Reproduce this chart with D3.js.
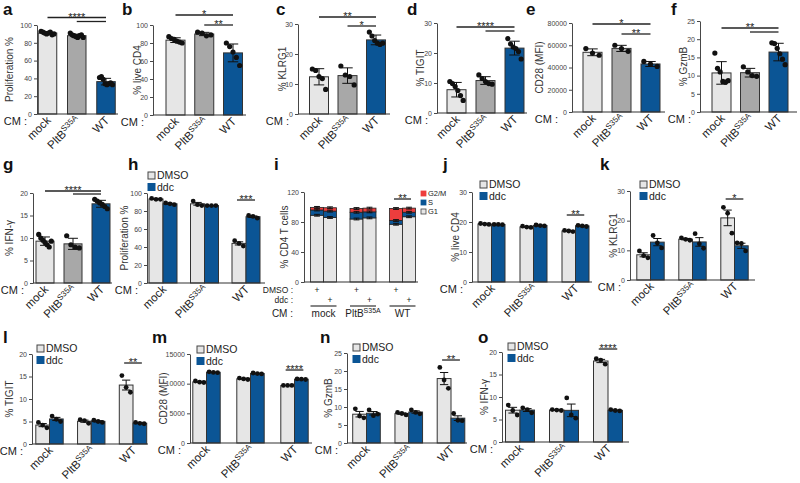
<!DOCTYPE html>
<html><head><meta charset="utf-8">
<script src="https://cdn.jsdelivr.net/npm/d3@7"></script>
<style>body{margin:0;background:#fff}svg{font-family:Arial,"Liberation Sans",sans-serif}</style>
</head><body><svg id="c" width="800" height="483"></svg>
<script>
// ---------------- DATA ----------------
const cm = ["mock", "PltB", "WT"];
const treat = ["DMSO", "ddc"];
// single-series panels: points per CM group
const aPts = [[93,92,91,90,91,92,89,90],[91,89,88,87,86,88,89,86],[41,42,39,34,33,34,35,33]];
const bPts = [[87,85,84,82,81,80],[92,91,88,89],[80,76,70,64,55]];
const cPts = [[15,14.5,12.5,11.8,8.2],[16,13,12.5,9.7],[27.3,26,24.5,23.6,23.2,23.6]];
const dPts = [[10.5,9.8,8.8,7.5,5.8,4.2],[12.7,11.5,10.5,9.8,9.6],[24.8,23,22,21.5,20.5,18]];
const ePts = [[57000,53000,51000],[60000,57000,54500],[45500,43000,41000]];
const fPts = [[16.2,12,11,8.4,8.2,8.6],[12.4,11,10,9.8],[19,18.8,17.5,16,14.5,13]];
const gPts = [[10.8,10,9.5,9,8.5,8,9.3],[10.5,8.5,8,7.8],[18.6,18.2,17.8,17.5,17,16.5]];
const singleSig = [["****",""],["*","**"],["**","*"],["****",""],["*","**"],["**",""],["****",""]];
const singleYLabels = ["Proliferation %","% live CD4","% KLRG1","% TIGIT","CD28 (MFI)","% GzmB","% IFN-\u03b3"];
// grouped panels (DMSO / ddc), 3 points per bar
const hDMSO = [[94,93,93],[91,87,86],[47,44,41]];
const hDdc  = [[89,88,87],[86,86,86],[75,74,72]];
const jDMSO = [[19.5,19.3,19.2],[18.6,18.3,18.2],[17.2,17.0,16.8]];
const jDdc  = [[19.2,19.2,19.1],[19.0,18.8,18.7],[18.9,18.7,18.5]];
const kDMSO = [[9.8,8.2,7.5],[14.2,13.7,13.4],[24.5,22.5,15.8]];
const kDdc  = [[15,12.5,10.8],[15.6,12.2,10.7],[12.5,12.3,9.8]];
const lDMSO = [[4.8,4.2,3.6],[5.4,5.2,4.6],[15.2,12.6,11.5]];
const lDdc  = [[6.2,5.5,5.0],[5.3,5.0,4.8],[4.8,4.6,4.5]];
const mDMSO = [[10450,10250,10200],[10950,10800,10700],[9700,9700,9700]];
const mDdc  = [[12000,11900,11850],[11800,11700,11650],[10800,10750,10700]];
const nDMSO = [[9.5,7.5,7.0],[8.5,8.2,7.8],[21,17.5,15.2]];
const nDdc  = [[9.2,7.6,8.0],[9.2,8.5,8.1],[8.2,6.3,6.2]];
const oDMSO = [[8.2,7.0,6.0],[7.2,7.1,7.0],[18.5,18.2,17.3]];
const oDdc  = [[7.6,7.2,6.5],[9.8,6.0,5.3],[7.2,7.0,6.9]];
const groupSig = ["***","**","*","**","****","**","****"];
const groupYLabels = ["Proliferation %","% live CD4","% KLRG1","% TIGIT","CD28 (MFI)","% GzmB","% IFN-\u03b3"];
// panel i: cell-cycle stacks (%), per CM group
const phases = ["G1","S","G2/M"];
const iG1DMSO = [89,84,77], iSDMSO = [7,9,5], iG2DMSO = [3.5,5,16];
const iG1Ddc  = [86,85.5,87], iSDdc = [8.5,8,6], iG2Ddc = [4.5,5,5.5];
const iErr = 1.2;
const iSig = "**";

// ---------------- LAYOUT ----------------
const BLUE = "#0b5595", LIGHT = "#e6e6e6", MID = "#a8a8a8", RED = "#ee3d3d";
const singleFill = [LIGHT, MID, BLUE];
const L1 = {
  a:{ax:37,yt:25,yb:114,max:100,ticks:[0,20,40,60,80,100],c0:47.5,c1:106,bw:18.5,xe:118,ylx:9,lx:3,ly:15,cmx:27,s1:17.5,s2:21.5},
  b:{ax:153,yt:25,yb:115,max:100,ticks:[0,20,40,60,80,100],c0:175.5,c1:233,bw:19,xe:246,ylx:137,lx:122,ly:15,cmx:144,s1:15,s2:25},
  c:{ax:298,yt:24,yb:114,max:30,ticks:[0,10,20,30],c0:319,c1:376,bw:19,xe:390,ylx:282,lx:276,ly:15,cmx:289,s1:17,s2:26},
  d:{ax:437,yt:23,yb:113,max:30,ticks:[0,10,20,30],c0:456.5,c1:514.5,bw:19,xe:527,ylx:420,lx:407,ly:15,cmx:428,s1:27,s2:31},
  e:{ax:572,yt:23,yb:112,max:80000,ticks:[0,20000,40000,60000,80000],c0:592.5,c1:650.5,bw:19,xe:665,ylx:539,lx:526,ly:15,cmx:558,s1:24,s2:34},
  f:{ax:700,yt:21,yb:112,max:25,ticks:[0,5,10,15,20,25],c0:721.5,c1:778.5,bw:19,xe:797,ylx:683,lx:671,ly:15,cmx:691,s1:28,s2:32},
  g:{ax:33,yt:193,yb:283,max:20,ticks:[0,5,10,15,20],c0:45,c1:101,bw:18,xe:112,ylx:9,lx:3,ly:170,cmx:24,s1:191,s2:194}
};
const L2 = {
  h:{ax:147,yt:193,yb:283,max:100,ticks:[0,20,40,60,80,100],g0:163,g1:246,bw:14,xe:265,ylx:124,lx:128,ly:170,cmx:138,leg:[148,179],sy:200},
  j:{ax:472,yt:192,yb:282,max:30,ticks:[0,10,20,30],g0:491.5,g1:575.5,bw:13.5,xe:592,ylx:455,lx:443,ly:170,cmx:463,leg:[480,188],sy:215},
  k:{ax:630,yt:191,yb:280,max:30,ticks:[0,10,20,30],g0:650.5,g1:734.5,bw:13.7,xe:755,ylx:613,lx:600,ly:170,cmx:621,leg:[640,188],sy:199},
  l:{ax:32,yt:354,yb:444,max:20,ticks:[0,5,10,15,20],g0:49.5,g1:133,bw:13.7,xe:148,ylx:9,lx:3,ly:343,cmx:23,leg:[37,352],sy:363},
  m:{ax:190,yt:354,yb:443,max:15000,ticks:[0,5000,10000,15000],g0:206.5,g1:294.5,bw:13.7,xe:312,ylx:163,lx:152,ly:343,cmx:181,leg:[197,353],sy:370},
  n:{ax:347,yt:353,yb:443,max:25,ticks:[0,5,10,15,20,25],g0:366.5,g1:451,bw:13.8,xe:467,ylx:328,lx:320,ly:343,cmx:338,leg:[353,351],sy:360},
  o:{ax:502,yt:352,yb:442,max:20,ticks:[0,5,10,15,20],g0:520,g1:608,bw:14.5,xe:629,ylx:484,lx:478,ly:343,cmx:493,leg:[508,350],sy:349}
};
const Li = {ax:304,yt:192,yb:282,max:120,ticks:[0,40,80,120],g0:323.5,g1:402.5,bw:13,xe:418,ylx:284,lx:274,ly:170,sy:199,legx:421,tx:293};

const svg = d3.select("#c");

function letter(t, x, y) {
  svg.append("text").attr("x", x).attr("y", y).attr("font-size", 17).attr("font-weight", "bold").attr("fill", "#111").text(t);
}
function axes(g, cfg, y) {
  const ax = g.append("g").attr("transform", `translate(${cfg.ax},0)`)
    .call(d3.axisLeft(y).tickValues(cfg.ticks).tickSize(3).tickSizeOuter(0).tickPadding(2).tickFormat(d3.format("d")));
  ax.attr("font-size", 7).attr("font-family", "Arial, Liberation Sans, sans-serif");
  ax.selectAll("text").attr("fill", "#444");
  ax.selectAll("line,path").attr("stroke", "#333").attr("stroke-width", 0.9);
  g.append("line").attr("x1", cfg.ax).attr("x2", cfg.xe).attr("y1", cfg.yb).attr("y2", cfg.yb)
    .attr("stroke", "#333").attr("stroke-width", 1.1);
}
function ylab(g, cfg, text) {
  g.append("text").attr("transform", `translate(${cfg.ylx},${(cfg.yt + cfg.yb) / 2}) rotate(-90)`)
    .attr("text-anchor", "middle").attr("dy", "0.35em").attr("font-size", 10).attr("fill", "#333").text(text);
}
const C45 = Math.SQRT1_2;
function catLabel(g, cx, yb, name) {
  const px = cx + 4, py = yb + 7;
  const t = g.append("text").attr("x", 0).attr("y", 0)
    .attr("transform", `matrix(${C45},${-C45},${C45},${C45},${px},${py})`)
    .attr("text-anchor", "end").attr("font-size", 11.5).attr("fill", "#222");
  if (name === "PltB") { t.append("tspan").text("PltB"); t.append("tspan").attr("font-size", 8).attr("dy", -4).text("S35A"); }
  else t.text(name);
}
function cmLabel(g, cfg) {
  g.append("text").attr("x", cfg.cmx).attr("y", cfg.yb + 11).attr("text-anchor", "end")
    .attr("font-size", 11).attr("fill", "#222").text("CM :");
}
function errBar(g, cx, y, m, e, w) {
  g.append("line").attr("x1", cx).attr("x2", cx).attr("y1", y(m - e)).attr("y2", y(m + e)).attr("stroke", "#111").attr("stroke-width", 1);
  [m - e, m + e].forEach(v => g.append("line").attr("x1", cx - w / 2).attr("x2", cx + w / 2).attr("y1", y(v)).attr("y2", y(v)).attr("stroke", "#111").attr("stroke-width", 1));
}
function dots(g, cx, vals, y, spread, r) {
  const n = vals.length;
  vals.forEach((v, i) => {
    const off = n > 1 ? (i - (n - 1) / 2) * spread / (n - 1) : 0;
    g.append("circle").attr("cx", cx + off).attr("cy", y(v)).attr("r", r).attr("fill", "#111");
  });
}
function sigLine(g, x1, x2, yy, label) {
  g.append("line").attr("x1", x1).attr("x2", x2).attr("y1", yy).attr("y2", yy).attr("stroke", "#222").attr("stroke-width", 1.3);
  if (label) g.append("text").attr("x", (x1 + x2) / 2).attr("y", yy + 3).attr("text-anchor", "middle")
    .attr("font-size", 11).attr("fill", "#222").text(label);
}

function singlePanel(key, pts, sig, ylabel) {
  const cfg = L1[key];
  const g = svg.append("g");
  letter(key, cfg.lx, cfg.ly);
  const y = d3.scaleLinear().domain([0, cfg.max]).range([cfg.yb, cfg.yt]);
  const step = (cfg.c1 - cfg.c0) / (cm.length - 1);
  const pad = 1 - cfg.bw / step;
  const x = d3.scaleBand().domain(cm).range([cfg.c0 - step / 2, cfg.c1 + step / 2]).paddingInner(pad).paddingOuter(pad / 2);
  const bw = x.bandwidth();
  const xc = c => x(c) + bw / 2;
  cm.forEach((c, i) => {
    const m = d3.mean(pts[i]), sd = d3.deviation(pts[i]);
    g.append("rect").attr("x", x(c)).attr("y", y(m)).attr("width", bw).attr("height", cfg.yb - y(m))
      .attr("fill", singleFill[i]).attr("stroke", "#333").attr("stroke-width", 1);
    errBar(g, xc(c), y, m, sd, bw * 0.55);
    dots(g, xc(c), pts[i], y, bw * 0.7, 2.6);
    catLabel(g, xc(c), cfg.yb, c);
  });
  axes(g, cfg, y);
  ylab(g, cfg, ylabel);
  cmLabel(g, cfg);
  sigLine(g, xc("mock"), xc("WT"), cfg.s1, sig[0]);
  sigLine(g, xc("PltB"), xc("WT"), cfg.s2, sig[1]);
}

function legend(g, lx, ly) {
  [["DMSO", LIGHT], ["ddc", BLUE]].forEach((d, i) => {
    const yy = ly + i * 11.5;
    g.append("rect").attr("x", lx).attr("y", yy - 7).attr("width", 7).attr("height", 7)
      .attr("fill", d[1]).attr("stroke", i === 0 ? "#444" : BLUE).attr("stroke-width", 1);
    g.append("text").attr("x", lx + 9).attr("y", yy).attr("font-size", 10.5).attr("fill", "#222").text(d[0]);
  });
}

function groupPanel(key, dm, dd, star, ylabel) {
  const cfg = L2[key];
  const g = svg.append("g");
  letter(key, cfg.lx, cfg.ly);
  const y = d3.scaleLinear().domain([0, cfg.max]).range([cfg.yb, cfg.yt]);
  const step = (cfg.g1 - cfg.g0) / (cm.length - 1);
  const pad = 1 - 2 * cfg.bw / step;
  const x0 = d3.scaleBand().domain(cm).range([cfg.g0 - step / 2, cfg.g1 + step / 2]).paddingInner(pad).paddingOuter(pad / 2);
  const x1 = d3.scaleBand().domain(treat).range([0, x0.bandwidth()]);
  const bw = x1.bandwidth();
  const data = [dm, dd];
  cm.forEach((c, i) => {
    treat.forEach((t, k) => {
      const vals = data[k][i];
      const m = d3.mean(vals), se = d3.deviation(vals) / Math.sqrt(vals.length);
      const bx = x0(c) + x1(t);
      g.append("rect").attr("x", bx).attr("y", y(m)).attr("width", bw).attr("height", cfg.yb - y(m))
        .attr("fill", k === 0 ? LIGHT : BLUE).attr("stroke", "#333").attr("stroke-width", 1);
      errBar(g, bx + bw / 2, y, m, se, bw * 0.6);
      dots(g, bx + bw / 2, vals, y, bw * 0.62, 2.4);
    });
    catLabel(g, x0(c) + x0.bandwidth() / 2, cfg.yb, c);
  });
  axes(g, cfg, y);
  ylab(g, cfg, ylabel);
  cmLabel(g, cfg);
  legend(g, cfg.leg[0], cfg.leg[1]);
  const wx = x0("WT");
  sigLine(g, wx + x1("DMSO") + bw / 2 - 2, wx + x1("ddc") + bw / 2 + 2, cfg.sy, star);
}

function cyclePanel() {
  const cfg = Li;
  const g = svg.append("g");
  letter("i", cfg.lx, cfg.ly);
  const y = d3.scaleLinear().domain([0, cfg.max]).range([cfg.yb, cfg.yt]);
  const step = (cfg.g1 - cfg.g0) / (cm.length - 1);
  const pad = 1 - 2 * cfg.bw / step;
  const x0 = d3.scaleBand().domain(cm).range([cfg.g0 - step / 2, cfg.g1 + step / 2]).paddingInner(pad).paddingOuter(pad / 2);
  const x1 = d3.scaleBand().domain(treat).range([0, x0.bandwidth()]);
  const bw = x1.bandwidth();
  const stackData = [[iG1DMSO, iSDMSO, iG2DMSO], [iG1Ddc, iSDdc, iG2Ddc]];
  const cols = [LIGHT, BLUE, RED];
  cm.forEach((c, i) => {
    treat.forEach((t, k) => {
      const bx = x0(c) + x1(t);
      let base = 0;
      const tops = [];
      stackData[k].forEach((arr, p) => {
        const v = arr[i];
        g.append("rect").attr("x", bx).attr("y", y(base + v)).attr("width", bw).attr("height", y(base) - y(base + v))
          .attr("fill", cols[p]).attr("stroke", "#222").attr("stroke-width", 0.8);
        base += v; tops.push(base);
      });
      tops.forEach(tp => errBar(g, bx + bw / 2, y, tp, iErr, bw * 0.45));
    });
  });
  axes(g, cfg, y);
  ylab(g, cfg, "% CD4 T cells");
  [["G2/M", RED], ["S", BLUE], ["G1", LIGHT]].forEach((d, i) => {
    const yy = 196 + i * 9;
    g.append("rect").attr("x", cfg.legx).attr("y", yy - 5).attr("width", 5).attr("height", 5)
      .attr("fill", d[1]).attr("stroke", i === 2 ? "#444" : d[1]).attr("stroke-width", 0.8);
    g.append("text").attr("x", cfg.legx + 7).attr("y", yy).attr("font-size", 7.5).attr("fill", "#222").text(d[0]);
  });
  const tx = cfg.tx;
  [["DMSO :", 293, "DMSO"], ["ddc :", 302.5, "ddc"]].forEach(r => {
    g.append("text").attr("x", tx).attr("y", r[1]).attr("text-anchor", "end").attr("font-size", 8.5).attr("fill", "#222").text(r[0]);
    cm.forEach(c => g.append("text").attr("x", x0(c) + x1(r[2]) + bw / 2).attr("y", r[1]).attr("text-anchor", "middle")
      .attr("font-size", 8.5).attr("fill", "#222").text("+"));
  });
  g.append("text").attr("x", tx).attr("y", 317).attr("text-anchor", "end").attr("font-size", 10).attr("fill", "#222").text("CM :");
  cm.forEach(c => {
    g.append("line").attr("x1", x0(c)).attr("x2", x0(c) + x0.bandwidth()).attr("y1", 306).attr("y2", 306).attr("stroke", "#222").attr("stroke-width", 1.1);
    const t = g.append("text").attr("x", x0(c) + x0.bandwidth() / 2).attr("y", 317).attr("text-anchor", "middle").attr("font-size", 10).attr("fill", "#222");
    if (c === "PltB") { t.append("tspan").text("PltB"); t.append("tspan").attr("font-size", 7).attr("dy", -4).text("S35A"); }
    else t.text(c);
  });
  const wx = x0("WT");
  sigLine(g, wx + x1("DMSO") + bw / 2 - 2, wx + x1("ddc") + bw / 2 + 2, cfg.sy, iSig);
}

const singles = [["a", aPts], ["b", bPts], ["c", cPts], ["d", dPts], ["e", ePts], ["f", fPts], ["g", gPts]];
singles.forEach((s, i) => singlePanel(s[0], s[1], singleSig[i], singleYLabels[i]));
const groups = [["h", hDMSO, hDdc], ["j", jDMSO, jDdc], ["k", kDMSO, kDdc], ["l", lDMSO, lDdc], ["m", mDMSO, mDdc], ["n", nDMSO, nDdc], ["o", oDMSO, oDdc]];
groups.forEach((s, i) => groupPanel(s[0], s[1], s[2], groupSig[i], groupYLabels[i]));
cyclePanel();
</script></body></html>
